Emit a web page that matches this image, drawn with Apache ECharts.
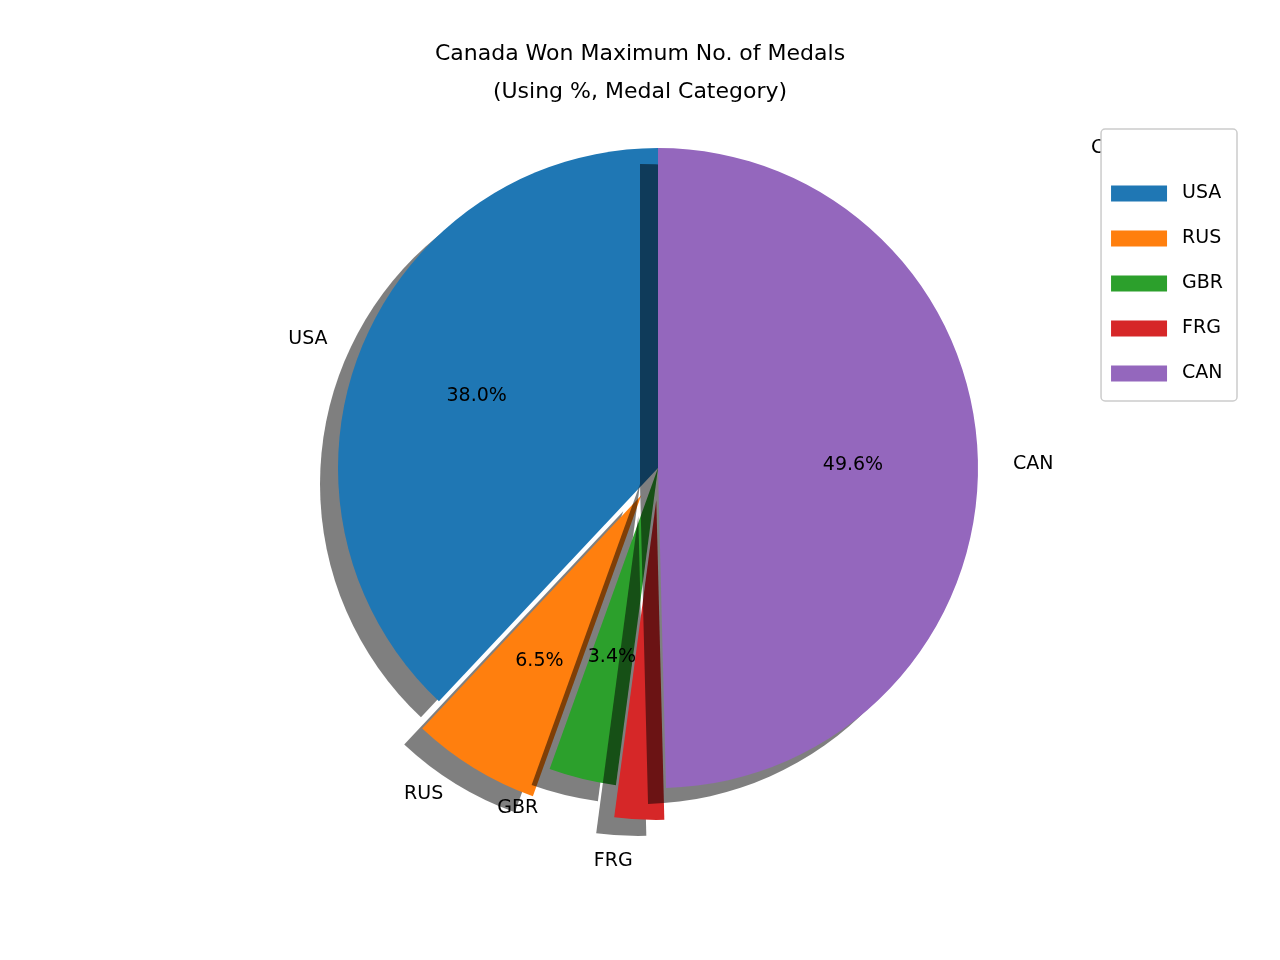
<!DOCTYPE html><html><head><meta charset="utf-8"><script src="https://cdn.jsdelivr.net/npm/echarts@6/dist/echarts.min.js"></script></head><body style="margin:0"><div id="c" style="width:1280px;height:960px"></div><script>
const categories=['USA','RUS','GBR','FRG','CAN'];
const values=[38.0,6.5,3.4,2.5,49.6];
const exploded=[false,true,false,true,false];
const colors=['#1f77b4','#ff7f0e','#2ca02c','#d62728','#9467bd'];
const F='DejaVu Sans';
const c=echarts.init(document.getElementById('c'));
const base={type:'pie',center:[658,468],startAngle:90,clockwise:false,selectedMode:'multiple',selectedOffset:32,animation:false,silent:true,emphasis:{disabled:true}};
c.setOption({
title:{text:'Canada Won Maximum No. of Medals\n(Using %, Medal Category)',left:'center',top:30,textStyle:{fontFamily:F,fontSize:22,fontWeight:'normal',color:'#000',lineHeight:38}},
legend:{orient:'vertical',right:43,top:129,data:categories,itemWidth:56,itemHeight:16,itemGap:26,padding:[55,14,18,10],borderColor:'#ccc',borderWidth:1.5,borderRadius:4,backgroundColor:'#fff',textStyle:{fontFamily:F,fontSize:19,color:'#000',padding:[0,0,0,10]},icon:'rect'},
graphic:[{type:'text',left:1091,top:139,style:{text:'Countries',font:'19px DejaVu Sans',fill:'#000'}}],
series:[
Object.assign({},base,{radius:[0,320],
data:categories.map((n,i)=>({name:n,value:values[i],selected:exploded[i],itemStyle:{color:colors[i]}})),
itemStyle:{shadowColor:'rgba(0,0,0,0.5)',shadowBlur:0,shadowOffsetX:-18,shadowOffsetY:16},
label:{show:true,position:'outside',formatter:'{b}',fontFamily:F,fontSize:19,color:'#000'},labelLine:{show:false,length:30,length2:0}}),
Object.assign({},base,{radius:[0,384],legendHoverLink:false,
data:categories.map((n,i)=>({name:n,value:values[i],selected:exploded[i],itemStyle:{color:'rgba(0,0,0,0)'}})),
label:{show:true,position:'inside',formatter:p=>values[p.dataIndex].toFixed(1)+'%',fontFamily:F,fontSize:19,color:'#000'},labelLine:{show:false}})
]});
</script></body></html>
